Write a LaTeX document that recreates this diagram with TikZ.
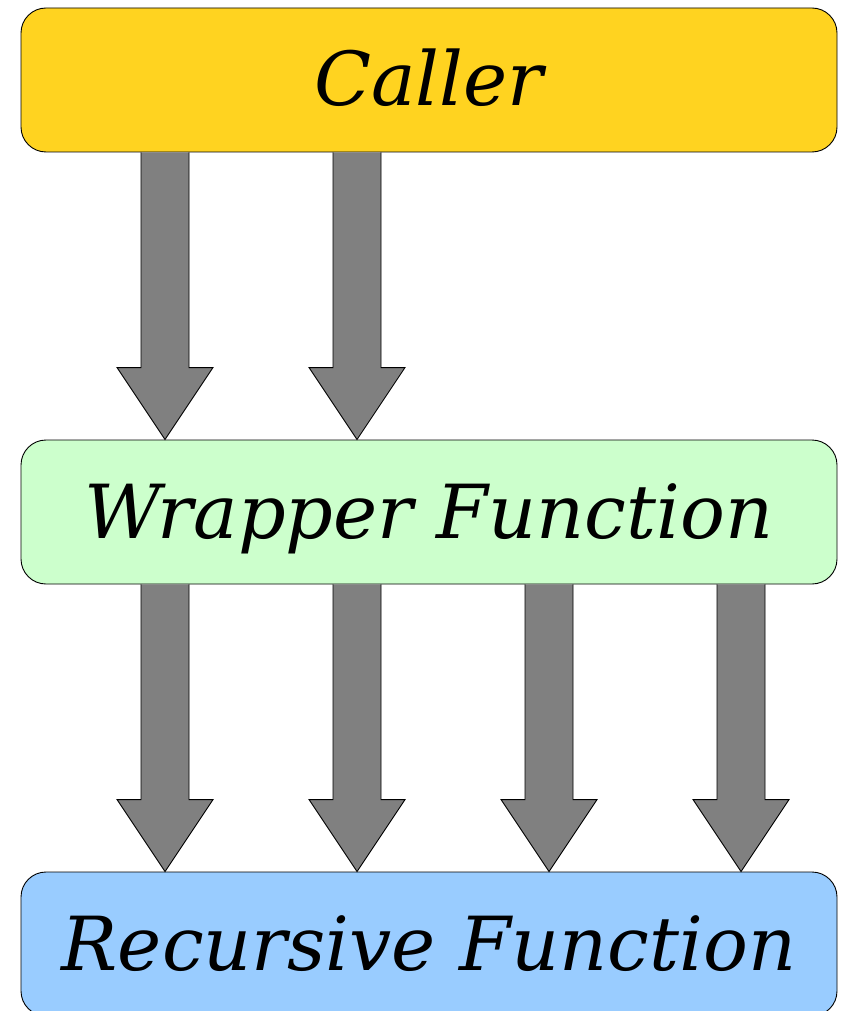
\documentclass[tikz,border=0pt]{standalone}
\usepackage{fontspec}
\setmainfont{DejaVu Serif}
\usetikzlibrary{calc}
\definecolor{calleryellow}{HTML}{FFD320}
\definecolor{wrappergreen}{HTML}{CCFFCC}
\definecolor{recursiveblue}{HTML}{99CCFF}
\definecolor{arrowgray}{HTML}{808080}
\tikzset{
  layer/.style={draw=black, line width=0.9pt, rounded corners=25pt,
    minimum width=816pt, minimum height=144pt, inner sep=0pt,
    text height=52pt, text depth=0pt,
    font=\fontsize{74.6}{80}\selectfont\itshape},
  fatarrow/.style={fill=arrowgray, draw=black, line width=0.9pt, line join=miter}
}
% block arrow from a point on one box's lower edge down to a point on the next box
\newcommand\blockarrow[2]{%
  \filldraw[fatarrow] let \p1=(#1), \p2=(#2) in
    (\x1-24pt,\y1) -- (\x1-24pt,\y2+72pt) -- (\x1-48pt,\y2+72pt) -- (\x2,\y2)
    -- (\x1+48pt,\y2+72pt) -- (\x1+24pt,\y2+72pt) -- (\x1+24pt,\y1);}
\begin{document}
\begin{tikzpicture}[x=1pt,y=-1pt]
  \useasboundingbox (0,0) rectangle (842,1011);
  \node[layer, fill=calleryellow]   (caller)    at (429,80)  {Caller};
  \node[layer, fill=wrappergreen]   (wrapper)   at (429,512) {Wrapper Function};
  \node[layer, fill=recursiveblue]  (recursive) at (429,944) {Recursive Function};
  \foreach \dx in {-264,-72}{
    \blockarrow{[xshift=\dx pt]caller.south}{[xshift=\dx pt]wrapper.north}
  }
  \foreach \dx in {-264,-72,120,312}{
    \blockarrow{[xshift=\dx pt]wrapper.south}{[xshift=\dx pt]recursive.north}
  }
\end{tikzpicture}
\end{document}
